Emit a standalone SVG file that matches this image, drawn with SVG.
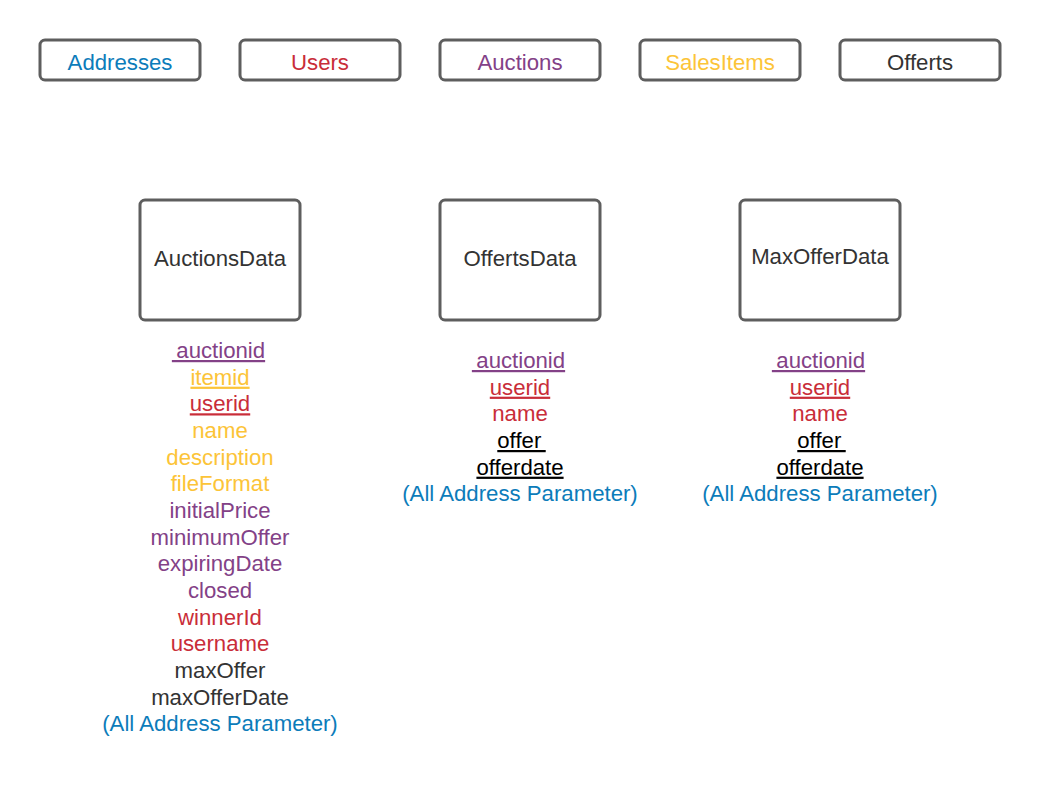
<svg xmlns="http://www.w3.org/2000/svg" width="1040" height="801" viewBox="0 0 1040 801">
<style>
.box{fill:#ffffff;stroke:#5e5e5e;stroke-width:3}
text{font-family:"Liberation Sans",Arial,sans-serif;font-size:22.2px;text-anchor:middle;white-space:pre}
.blue{fill:#0c7cba}.red{fill:#c92d39}.purple{fill:#834187}.yellow{fill:#fcc438}.dark{fill:#333333}.black{fill:#000000}
.u{text-decoration:underline}
</style>
<rect width="1040" height="801" fill="#ffffff"/>
<g id="connectors"></g>
<g id="addresses"><rect class="box" x="40" y="40" width="160" height="40" rx="5"/><text class="blue" x="120" y="70">Addresses</text></g>
<g id="users"><rect class="box" x="240" y="40" width="160" height="40" rx="5"/><text class="red" x="320" y="70">Users</text></g>
<g id="auctions"><rect class="box" x="440" y="40" width="160" height="40" rx="5"/><text class="purple" x="520" y="70">Auctions</text></g>
<g id="salesitems"><rect class="box" x="640" y="40" width="160" height="40" rx="5"/><text class="yellow" x="720" y="70">SalesItems</text></g>
<g id="offerts"><rect class="box" x="840" y="40" width="160" height="40" rx="5"/><text class="dark" x="920" y="70">Offerts</text></g>

<g id="auctionsdata"><rect class="box" x="140" y="200" width="160" height="120" rx="5"/><text class="dark" x="220" y="266">AuctionsData</text></g>
<g id="offertsdata"><rect class="box" x="440" y="200" width="160" height="120" rx="5"/><text class="dark" x="520" y="266">OffertsData</text></g>
<g id="maxofferdata"><rect class="box" x="740" y="200" width="160" height="120" rx="5"/><text class="dark" x="820" y="264">MaxOfferData</text></g>

<g id="auctionsdata-fields">
<text class="purple u" x="218.5" y="358">&#8201;auctionid</text>
<text class="yellow u" x="220" y="384.7">itemid</text>
<text class="red u" x="220" y="411.3">userid</text>
<text class="yellow" x="220" y="438">name</text>
<text class="yellow" x="220" y="464.7">description</text>
<text class="yellow" x="220" y="491.3">fileFormat</text>
<text class="purple" x="220" y="518">initialPrice</text>
<text class="purple" x="220" y="544.7">minimumOffer</text>
<text class="purple" x="220" y="571.3">expiringDate</text>
<text class="purple" x="220" y="598">closed</text>
<text class="red" x="220" y="624.7">winnerId</text>
<text class="red" x="220" y="651.3">username</text>
<text class="dark" x="220" y="678">maxOffer</text>
<text class="dark" x="220" y="704.7">maxOfferDate</text>
<text class="blue" x="220" y="731.3">(All Address Parameter)</text>
</g>

<g id="offertsdata-fields">
<text class="purple u" x="518.5" y="368">&#8201;auctionid</text>
<text class="red u" x="520" y="394.7">userid</text>
<text class="red" x="520" y="421.3">name</text>
<text class="black u" x="521.5" y="448">offer&#8201;</text>
<text class="black u" x="520" y="474.7">offerdate</text>
<text class="blue" x="520" y="501.3">(All Address Parameter)</text>
</g>

<g id="maxofferdata-fields">
<text class="purple u" x="818.5" y="368">&#8201;auctionid</text>
<text class="red u" x="820" y="394.7">userid</text>
<text class="red" x="820" y="421.3">name</text>
<text class="black u" x="821.5" y="448">offer&#8201;</text>
<text class="black u" x="820" y="474.7">offerdate</text>
<text class="blue" x="820" y="501.3">(All Address Parameter)</text>
</g>
</svg>
